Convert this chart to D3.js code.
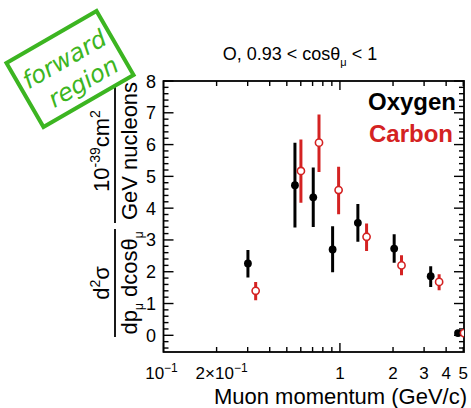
<!DOCTYPE html>
<html>
<head>
<meta charset="utf-8">
<script src="https://cdn.jsdelivr.net/npm/d3@7"></script>
<style>
  body { margin: 0; background: #fff; }
  svg { font-family: "Liberation Sans", Arial, sans-serif; }
</style>
</head>
<body>
<svg id="chart" width="471" height="408"></svg>
<script>
// muon momentum (GeV/c), cross section and error bar ends
const oxygenP    = [0.301, 0.556, 0.706, 0.909, 1.264, 2.03, 3.27, 4.67];
const oxygenXs   = [2.26, 4.72, 4.34, 2.70, 3.54, 2.73, 1.86, 0.07];
const oxygenHi   = [2.68, 6.06, 5.28, 3.43, 4.13, 3.18, 2.17, 0.07];
const oxygenLo   = [1.82, 3.39, 3.41, 1.98, 2.94, 2.28, 1.52, 0.07];

const carbonP    = [0.333, 0.601, 0.761, 0.983, 1.416, 2.234, 3.65, 5.05];
const carbonXs   = [1.40, 5.17, 6.06, 4.57, 3.10, 2.20, 1.68, 0.07];
const carbonHi   = [1.68, 6.16, 6.95, 5.30, 3.52, 2.52, 1.92, 0.07];
const carbonLo   = [1.10, 4.17, 5.14, 3.81, 2.65, 1.89, 1.42, 0.07];

const yTicks = [0, 1, 2, 3, 4, 5, 6, 7, 8];
const xMajor = [0.1, 1];
const xMinor = [0.2, 0.3, 0.4, 0.5, 0.6, 0.7, 0.8, 0.9, 2, 3, 4, 5];

const red = "#d42222";
const green = "#3cb521";

const svg = d3.select("#chart");
const fLeft = 163.5, fRight = 464, fTop = 81, fBottom = 352;

const x = d3.scaleLog().domain([0.1, 5.05]).range([fLeft, fRight]);
const y = d3.scaleLinear().domain([-0.525, 8]).range([fBottom, fTop]);

svg.append("clipPath").attr("id", "frame")
  .append("rect").attr("x", fLeft).attr("y", fTop)
  .attr("width", fRight - fLeft).attr("height", fBottom - fTop);

// ticks inside the frame, all four sides
const tk = svg.append("g").attr("stroke", "#000").attr("stroke-width", 1.4);
const yMinor = d3.range(-0.4, 8.01, 0.2).filter(v => Math.abs(v - Math.round(v)) > 0.01);
yTicks.forEach(v => {
  tk.append("line").attr("x1", fLeft).attr("x2", fLeft + 10).attr("y1", y(v)).attr("y2", y(v));
  tk.append("line").attr("x1", fRight).attr("x2", fRight - 10).attr("y1", y(v)).attr("y2", y(v));
});
yMinor.forEach(v => {
  tk.append("line").attr("x1", fLeft).attr("x2", fLeft + 5).attr("y1", y(v)).attr("y2", y(v));
  tk.append("line").attr("x1", fRight).attr("x2", fRight - 5).attr("y1", y(v)).attr("y2", y(v));
});
xMajor.forEach(v => {
  tk.append("line").attr("x1", x(v)).attr("x2", x(v)).attr("y1", fBottom).attr("y2", fBottom - 9);
  tk.append("line").attr("x1", x(v)).attr("x2", x(v)).attr("y1", fTop).attr("y2", fTop + 9);
});
xMinor.forEach(v => {
  tk.append("line").attr("x1", x(v)).attr("x2", x(v)).attr("y1", fBottom).attr("y2", fBottom - 5);
  tk.append("line").attr("x1", x(v)).attr("x2", x(v)).attr("y1", fTop).attr("y2", fTop + 5);
});

svg.append("rect").attr("x", fLeft).attr("y", fTop)
  .attr("width", fRight - fLeft).attr("height", fBottom - fTop)
  .attr("fill", "none").attr("stroke", "#000").attr("stroke-width", 1.8);

// tick labels
svg.append("g").selectAll("text").data(yTicks).join("text")
  .attr("x", 156).attr("y", d => y(d) + 6.5)
  .attr("text-anchor", "end").attr("font-size", 18)
  .text(d => d);

const xl = svg.append("g").attr("font-size", 17).attr("text-anchor", "middle");
function powLabel(px, pre) {
  const t = xl.append("text").attr("x", px).attr("y", 379);
  t.append("tspan").text(pre + "10");
  t.append("tspan").attr("dy", -7).attr("font-size", 12).text("−1");
}
powLabel(x(0.1) - 2, "");
powLabel(x(0.2) + 5, "2×");
[1, 2, 3, 4, 5].forEach(v => {
  xl.append("text").attr("x", x(v)).attr("y", 379).text(v);
});

svg.append("text").attr("x", 467).attr("y", 404).attr("text-anchor", "end")
  .attr("font-size", 22).text("Muon momentum (GeV/c)");

// title
const title = svg.append("text").attr("x", 300).attr("y", 60)
  .attr("text-anchor", "middle").attr("font-size", 18);
title.append("tspan").text("O, 0.93 < cosθ");
title.append("tspan").attr("dy", 6).attr("font-size", 11).text("μ");
title.append("tspan").attr("dy", -6).text(" < 1");

// y axis label, two stacked fractions rotated
function fraction(cy, x1, x2, num, den) {
  const g = svg.append("g").attr("transform", `translate(115,${cy}) rotate(-90)`)
    .attr("font-size", 22).attr("text-anchor", "middle");
  g.append("line").attr("x1", x1).attr("x2", x2).attr("y1", 0).attr("y2", 0)
    .attr("stroke", "#000").attr("stroke-width", 1.8);
  num(g.append("text").attr("x", 0).attr("y", -6));
  den(g.append("text").attr("x", 0).attr("y", 22));
}
fraction(283, -54, 54,
  t => {
    t.append("tspan").text("d");
    t.append("tspan").attr("dy", -9).attr("font-size", 14).text("2");
    t.append("tspan").attr("dy", 9).text("σ");
  },
  t => {
    t.append("tspan").text("dp");
    t.append("tspan").attr("dy", 6).attr("font-size", 12).text("μ");
    t.append("tspan").attr("dy", -6).text(" dcosθ");
    t.append("tspan").attr("dy", 6).attr("font-size", 12).text("μ");
  });
fraction(151, -72, 72,
  t => {
    t.append("tspan").text("10");
    t.append("tspan").attr("dy", -9).attr("font-size", 14).text("-39");
    t.append("tspan").attr("dy", 9).text("cm");
    t.append("tspan").attr("dy", -9).attr("font-size", 14).text("2");
  },
  t => t.text("GeV nucleons"));

// data
const plot = svg.append("g").attr("clip-path", "url(#frame)");
function series(p, v, lo, hi, color, open) {
  const g = plot.append("g");
  g.selectAll("line").data(p).join("line")
    .attr("x1", d => x(d)).attr("x2", d => x(d))
    .attr("y1", (d, i) => y(lo[i])).attr("y2", (d, i) => y(hi[i]))
    .attr("stroke", color).attr("stroke-width", 3);
  g.selectAll("circle").data(p).join("circle")
    .attr("cx", d => x(d)).attr("cy", (d, i) => y(v[i]))
    .attr("r", open ? 3.6 : 3.9)
    .attr("fill", open ? "#fff" : color)
    .attr("stroke", color).attr("stroke-width", open ? 1.6 : 0);
}
series(oxygenP, oxygenXs, oxygenLo, oxygenHi, "#000", false);
series(carbonP, carbonXs, carbonLo, carbonHi, red, true);

// legend
svg.append("text").attr("x", 456).attr("y", 110).attr("text-anchor", "end")
  .attr("font-size", 24).attr("font-weight", "bold").text("Oxygen");
svg.append("text").attr("x", 453).attr("y", 142).attr("text-anchor", "end")
  .attr("font-size", 24).attr("font-weight", "bold").attr("fill", red).text("Carbon");

// green stamp
const stamp = svg.append("g").attr("transform", "translate(70,69) rotate(-30)");
stamp.append("rect").attr("x", -52).attr("y", -37).attr("width", 104).attr("height", 74)
  .attr("fill", "#fff").attr("stroke", green).attr("stroke-width", 4);
stamp.append("text").attr("x", 0).attr("y", -3).attr("text-anchor", "middle")
  .attr("font-size", 24).attr("font-style", "italic").attr("fill", green)
  .attr("font-family", "'DejaVu Sans', sans-serif").text("forward");
stamp.append("text").attr("x", 5).attr("y", 26).attr("text-anchor", "middle")
  .attr("font-size", 24).attr("font-style", "italic").attr("fill", green)
  .attr("font-family", "'DejaVu Sans', sans-serif").text("region");
</script>
</body>
</html>
